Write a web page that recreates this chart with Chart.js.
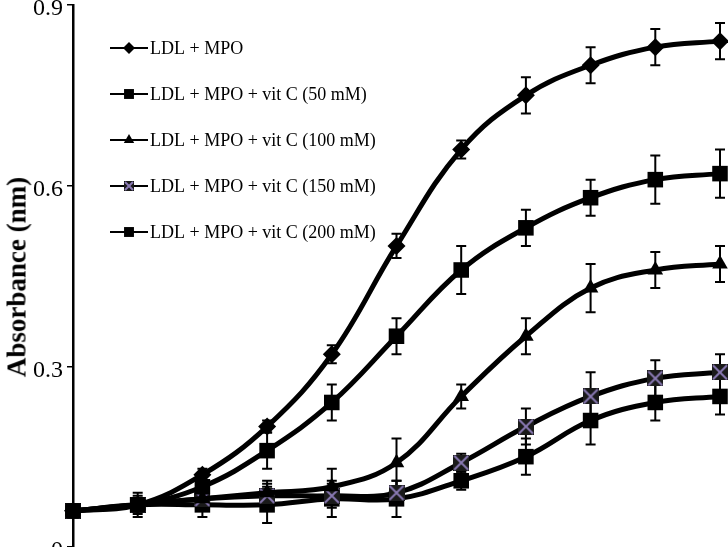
<!DOCTYPE html>
<html>
<head>
<meta charset="utf-8">
<script src="https://cdn.jsdelivr.net/npm/chart.js@4.4.1/dist/chart.umd.min.js"></script>
<style>
    html, body { margin: 0; padding: 0; background: #fff; overflow: hidden; }
    #wrap { position: relative; width: 728px; height: 580px; }
    #titreY {
        position: absolute; left: 17px; top: 277px;
        transform: translate(-50%, -50%) rotate(-90deg);
        font: bold 27px "Liberation Serif", serif; white-space: nowrap; color: #000;
    }
</style>
</head>
<body>
<div id="wrap">
    <canvas id="graphAbsorbance" width="728" height="580"></canvas>
    <div id="titreY">Absorbance (nm)</div>
</div>
<script>
// temps (axe x coupé dans l'image)
var temps = ['0', '10', '20', '30', '40', '50', '60', '70', '80', '90', '100'];

var ldlMpo = [0.06, 0.07, 0.12, 0.20, 0.32, 0.50, 0.66, 0.75, 0.80, 0.83, 0.84];
var errLdlMpo = [0, 0.01, 0.01, 0.01, 0.015, 0.02, 0.015, 0.03, 0.03, 0.03, 0.03];

var vitC50 = [0.06, 0.07, 0.10, 0.16, 0.24, 0.35, 0.46, 0.53, 0.58, 0.61, 0.62];
var errVitC50 = [0, 0.015, 0.02, 0.03, 0.03, 0.03, 0.04, 0.03, 0.03, 0.04, 0.04];

var vitC100 = [0.06, 0.07, 0.08, 0.09, 0.10, 0.14, 0.25, 0.35, 0.43, 0.46, 0.47];
var errVitC100 = [0, 0.01, 0.015, 0.02, 0.03, 0.04, 0.02, 0.03, 0.04, 0.03, 0.03];

var vitC150 = [0.06, 0.07, 0.08, 0.085, 0.085, 0.09, 0.14, 0.20, 0.25, 0.28, 0.29];
var errVitC150 = [0, 0.01, 0.02, 0.02, 0.02, 0.02, 0.015, 0.03, 0.04, 0.03, 0.03];

var vitC200 = [0.06, 0.07, 0.07, 0.07, 0.08, 0.08, 0.11, 0.15, 0.21, 0.24, 0.25];
var errVitC200 = [0, 0.02, 0.02, 0.03, 0.03, 0.03, 0.015, 0.03, 0.04, 0.03, 0.03];

var legendes = ['LDL + MPO', 'LDL + MPO + vit C (50 mM)', 'LDL + MPO + vit C (100 mM)',
    'LDL + MPO + vit C (150 mM)', 'LDL + MPO + vit C (200 mM)'];

// marqueur carré avec croix violette
function marqueurCroix(taille) {
    var c = document.createElement('canvas');
    c.width = taille; c.height = taille;
    var g = c.getContext('2d');
    g.fillStyle = '#1a1a1a';
    g.fillRect(0, 0, taille, taille);
    g.strokeStyle = '#8a7ab4';
    g.lineWidth = 2;
    g.beginPath();
    g.moveTo(1, 1); g.lineTo(taille - 1, taille - 1);
    g.moveTo(taille - 1, 1); g.lineTo(1, taille - 1);
    g.stroke();
    return c;
}

var serie = function (label, data, erreurs, style, rayon) {
    return {
        label: label,
        data: data,
        erreurs: erreurs,
        borderColor: '#000',
        backgroundColor: '#000',
        borderWidth: 5,
        tension: 0.4,
        pointStyle: style,
        pointRadius: rayon,
        pointBorderWidth: 0,
        pointBackgroundColor: '#000',
        fill: false,
        clip: false
    };
};

var pluginErreurs = {
    id: 'erreurs',
    beforeDatasetsDraw: function (chart) {
        var ctx = chart.ctx;
        var yScale = chart.scales.y;
        ctx.save();
        ctx.strokeStyle = '#000';
        ctx.lineWidth = 2;
        chart.data.datasets.forEach(function (ds, d) {
            chart.getDatasetMeta(d).data.forEach(function (pt, i) {
                var e = ds.erreurs[i];
                if (!e) return;
                var yHaut = yScale.getPixelForValue(ds.data[i] + e);
                var yBas = yScale.getPixelForValue(ds.data[i] - e);
                ctx.beginPath();
                ctx.moveTo(pt.x, yHaut); ctx.lineTo(pt.x, yBas);
                ctx.moveTo(pt.x - 5, yHaut); ctx.lineTo(pt.x + 5, yHaut);
                ctx.moveTo(pt.x - 5, yBas); ctx.lineTo(pt.x + 5, yBas);
                ctx.stroke();
            });
        });
        ctx.restore();
    }
};

var stylesLegende = ['rectRot', 'rect', 'triangle', marqueurCroix(10), 'rect'];
var rayonsLegende = [6, 7, 6, 5, 7];

var pluginLegende = {
    id: 'legendeInterne',
    afterDraw: function (chart) {
        var ctx = chart.ctx;
        ctx.save();
        chart.data.datasets.forEach(function (ds, d) {
            var y = 48 + d * 46;
            ctx.strokeStyle = '#000';
            ctx.lineWidth = 2;
            ctx.beginPath();
            ctx.moveTo(110, y); ctx.lineTo(148, y);
            ctx.stroke();
            ctx.fillStyle = '#000';
            Chart.helpers.drawPoint(ctx, {
                pointStyle: stylesLegende[d], radius: rayonsLegende[d], rotation: 0, borderWidth: 0
            }, 129, y);
            ctx.fillStyle = '#000';
            ctx.font = '18px "Liberation Serif", serif';
            ctx.textBaseline = 'middle';
            ctx.textAlign = 'left';
            ctx.fillText(ds.label, 150, y + 1);
        });
        ctx.restore();
    }
};

new Chart(document.getElementById('graphAbsorbance').getContext('2d'), {
    type: 'line',
    data: {
        labels: temps,
        datasets: [
            serie(legendes[0], ldlMpo, errLdlMpo, 'rectRot', 9),
            serie(legendes[1], vitC50, errVitC50, 'rect', 11),
            serie(legendes[2], vitC100, errVitC100, 'triangle', 9),
            serie(legendes[3], vitC150, errVitC150, marqueurCroix(16), 8),
            serie(legendes[4], vitC200, errVitC200, 'rect', 11)
        ]
    },
    options: {
        responsive: false,
        animation: false,
        devicePixelRatio: 1,
        layout: { autoPadding: false, padding: { left: 0, top: 5, right: 8, bottom: 33 } },
        plugins: { legend: { display: false }, tooltip: { enabled: false } },
        scales: {
            x: { display: false },
            y: {
                min: 0, max: 0.9,
                afterFit: function (scale) {
                    scale.width = 73;
                    scale.paddingTop = 0;
                    scale.paddingBottom = 0;
                },
                ticks: {
                    stepSize: 0.3, color: '#000', padding: 4, labelOffset: 4,
                    font: { family: '"Liberation Serif", serif', size: 24 }
                },
                grid: { drawOnChartArea: false, drawTicks: true, tickLength: 6, color: '#000', lineWidth: 1.5 },
                border: { display: true, color: '#000', width: 2.5 }
            }
        }
    },
    plugins: [pluginErreurs, pluginLegende]
});
</script>
</body>
</html>
